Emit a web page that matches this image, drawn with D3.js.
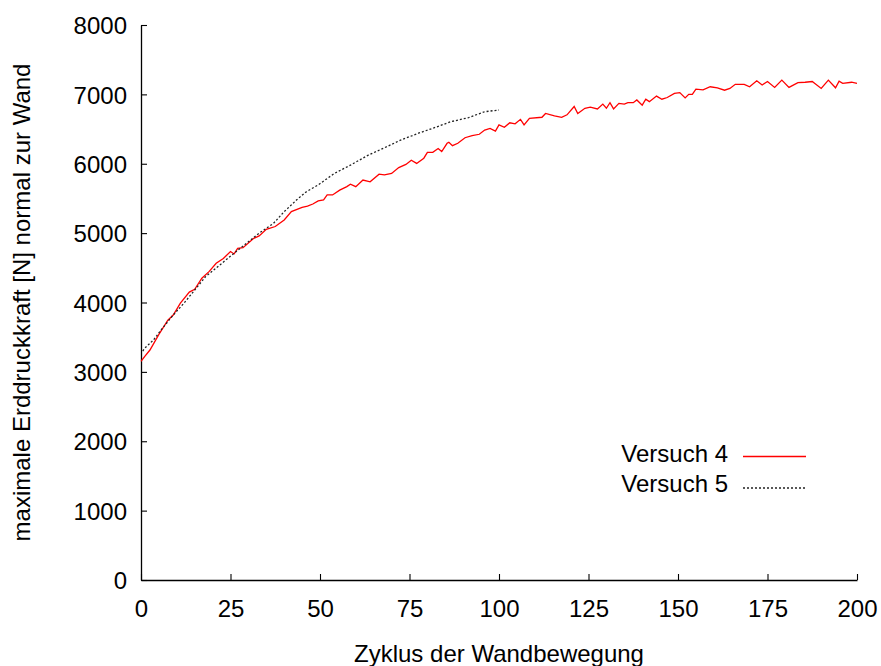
<!DOCTYPE html>
<html>
<head>
<meta charset="utf-8">
<script src="https://cdn.jsdelivr.net/npm/d3@7"></script>
<style>
  body { margin: 0; background: #fff; }
  svg { display: block; }
  text { font-family: "Liberation Sans", Arial, sans-serif; }
</style>
</head>
<body>
<svg></svg>
<script>
// values
const seriesNames = ["Versuch 4", "Versuch 5"];
const xTicks = [0, 25, 50, 75, 100, 125, 150, 175, 200];
const yTicks = [0, 1000, 2000, 3000, 4000, 5000, 6000, 7000, 8000];

// Versuch 4: [cycle, force N]
const versuch4 = [
  [0,3150],[1,3220],[2.5,3315],[5,3540],[7.5,3745],[9,3820],[11,3990],[13.5,4150],[15,4190],
  [17,4350],[19,4445],[21,4565],[23,4635],[25,4735],[26,4700],[27,4780],[28.5,4790],[31.5,4925],
  [33,4960],[35,5055],[37.5,5095],[40,5190],[42,5310],[45,5370],[46.5,5390],[48,5420],[49.5,5465],
  [51,5480],[52,5550],[53.5,5550],[55.5,5620],[57.5,5670],[58.5,5705],[60,5670],[62,5765],[64,5740],
  [66.5,5850],[68,5840],[70,5860],[72,5945],[74,5990],[75.5,6050],[77,6005],[79,6080],[80,6165],
  [81.5,6165],[83,6220],[84,6175],[85.5,6295],[86,6310],[87,6260],[88.5,6295],[90.5,6375],[92.5,6405],
  [94.5,6425],[96,6485],[97.5,6510],[99,6470],[100,6560],[101.5,6525],[103,6590],[104.5,6575],
  [106,6640],[107,6560],[108.5,6655],[112,6670],[113,6725],[115.5,6690],[117.5,6670],[119,6705],
  [121,6825],[122,6725],[124,6800],[125.5,6815],[127.5,6790],[129,6860],[130,6800],[131,6880],
  [132,6790],[133.5,6870],[135,6860],[136,6880],[137.5,6880],[138.5,6920],[140,6845],[141,6930],
  [142,6895],[144,6975],[145.5,6930],[147,6955],[149,7015],[150.5,7025],[152,6950],[153,7000],
  [154,7000],[155,7075],[157,7065],[159,7110],[161,7095],[163,7060],[164.5,7085],[166,7145],
  [168.5,7145],[170,7110],[172,7195],[173.5,7135],[175,7185],[177,7100],[179,7205],[181,7100],
  [183.5,7170],[185.5,7175],[187.5,7185],[190,7085],[192,7205],[194,7095],[195,7190],[196,7160],
  [198.5,7175],[200,7160]
];

// Versuch 5: [cycle, force N]
const versuch5 = [
  [0.5,3300],[1,3340],[3.5,3460],[6,3630],[9,3820],[12,3990],[15,4180],[18,4370],[22,4540],
  [26,4710],[29.5,4855],[33,5000],[37,5140],[40,5310],[43.5,5480],[46,5590],[49.5,5695],[54,5860],
  [58.5,5980],[63.5,6125],[68,6230],[72.5,6340],[77.5,6440],[82,6520],[86.5,6605],[91.5,6665],
  [96,6750],[100,6775]
];

const width = 881
const height = 666
const margin = { top: 25, right: 24, bottom: 86, left: 141 }
const fontSize = 24

const svg = d3.select("svg").attr("width", width).attr("height", height)

const x = d3.scaleLinear().domain([0, 200]).range([margin.left, width - margin.right])
const y = d3.scaleLinear().domain([0, 8000]).range([height - margin.bottom, margin.top])

// axes, ticks pointing inward
const xAxis = svg.append("g")
  .attr("transform", `translate(0,${height - margin.bottom})`)
  .call(d3.axisBottom(x).tickValues(xTicks).tickFormat(d3.format("d"))
    .tickSizeInner(-6).tickSizeOuter(0).tickPadding(20))
const yAxis = svg.append("g")
  .attr("transform", `translate(${margin.left},0)`)
  .call(d3.axisLeft(y).tickValues(yTicks).tickFormat(d3.format("d"))
    .tickSizeInner(-6).tickSizeOuter(0).tickPadding(14))

for (const g of [xAxis, yAxis]) {
  g.attr("font-family", null).attr("font-size", null)
  g.select(".domain").attr("stroke", "#000").attr("stroke-width", 1.3)
  g.selectAll(".tick line").attr("stroke", "#000").attr("stroke-width", 1.1)
  g.selectAll(".tick text").attr("fill", "#000").style("font-size", fontSize + "px")
}
yAxis.selectAll(".tick text").attr("dy", "0.36em")

svg.append("text")
  .attr("x", (margin.left + width - margin.right) / 2)
  .attr("y", 662)
  .attr("text-anchor", "middle")
  .style("font-size", fontSize + "px")
  .text("Zyklus der Wandbewegung")

svg.append("text")
  .attr("transform", `translate(30,${(margin.top + height - margin.bottom) / 2}) rotate(-90)`)
  .attr("text-anchor", "middle")
  .style("font-size", fontSize + "px")
  .text("maximale Erddruckkraft [N] normal zur Wand")

const line = d3.line()
  .x(d => x(d[0]))
  .y(d => y(d[1]))

const styles = [
  { stroke: "#ff0000", dash: null, width: 1.3 },
  { stroke: "#222", dash: "2,2", width: 1.3 }
]
const series = [versuch4, versuch5]

svg.append("g")
  .selectAll("path")
  .data(series)
  .enter().append("path")
    .attr("fill", "none")
    .attr("d", line)
    .attr("stroke", (d, i) => styles[i].stroke)
    .attr("stroke-width", (d, i) => styles[i].width)
    .attr("stroke-dasharray", (d, i) => styles[i].dash)

// legend
const legend = svg.append("g")
  .selectAll("g")
  .data(seriesNames)
  .enter().append("g")
    .attr("transform", (d, i) => `translate(0,${i * 30})`)
legend.append("text")
  .attr("x", 728)
  .attr("y", 462)
  .attr("text-anchor", "end")
  .style("font-size", fontSize + "px")
  .text(d => d)
legend.append("line")
  .attr("x1", 743).attr("x2", 806)
  .attr("y1", (d, i) => i === 0 ? 456.5 : 458)
  .attr("y2", (d, i) => i === 0 ? 456.5 : 458)
  .attr("stroke", (d, i) => styles[i].stroke)
  .attr("stroke-width", (d, i) => styles[i].width)
  .attr("stroke-dasharray", (d, i) => styles[i].dash)
</script>
</body>
</html>
